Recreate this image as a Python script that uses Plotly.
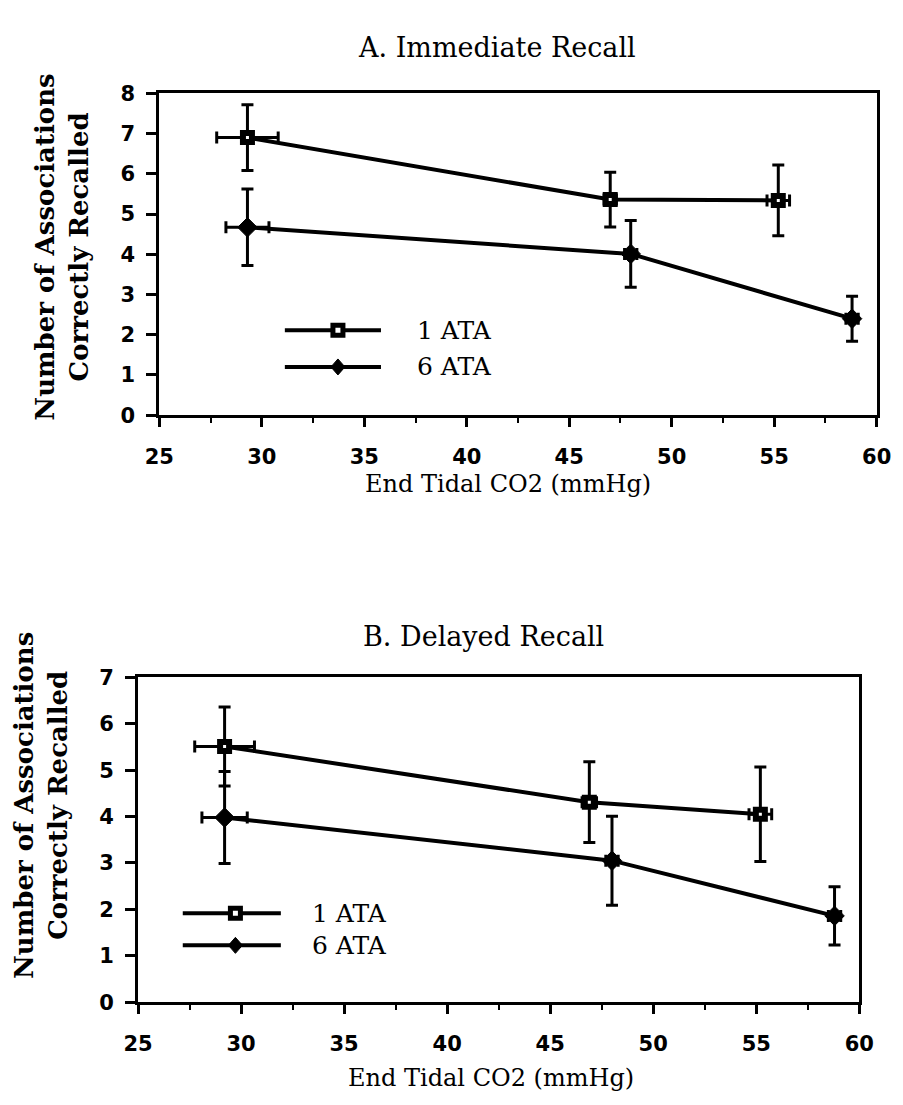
import plotly.graph_objects as go

# ---------------- data ----------------
# A. Immediate Recall
a_1ata_x = [29.3, 47.0, 55.2]
a_1ata_y = [6.90, 5.36, 5.34]
a_1ata_yerr = [0.82, 0.68, 0.88]
a_1ata_xerr = [1.5, 0.3, 0.55]

a_6ata_x = [29.3, 48.0, 58.8]
a_6ata_y = [4.67, 4.01, 2.40]
a_6ata_yerr = [0.95, 0.83, 0.56]
a_6ata_xerr = [1.05, 0.3, 0.3]

# B. Delayed Recall
b_1ata_x = [29.2, 46.9, 55.2]
b_1ata_y = [5.51, 4.31, 4.05]
b_1ata_yerr = [0.85, 0.87, 1.02]
b_1ata_xerr = [1.45, 0.35, 0.55]

b_6ata_x = [29.2, 48.0, 58.8]
b_6ata_y = [3.98, 3.05, 1.86]
b_6ata_yerr = [0.99, 0.96, 0.63]
b_6ata_xerr = [1.1, 0.3, 0.3]

series_names = ["1 ATA", "6 ATA"]
titles = ["A. Immediate Recall", "B. Delayed Recall"]
x_title = "End Tidal CO2 (mmHg)"
y_title = "Number of Associations<br>Correctly Recalled"
x_ticks = [25, 30, 35, 40, 45, 50, 55, 60]

W, H = 903, 1105
BLACK = "black"

fig = go.Figure()


def add_series(x, y, xerr, yerr, xa, ya, name, kind):
    if kind == "square":
        marker = dict(symbol="square", size=9, color="white",
                      line=dict(color=BLACK, width=6))
    else:
        marker = dict(symbol="diamond", size=15, color=BLACK,
                      line=dict(color=BLACK, width=1))
    fig.add_trace(go.Scatter(
        x=x, y=y, name=name, mode="lines+markers",
        xaxis=xa, yaxis=ya, showlegend=False, cliponaxis=False,
        line=dict(color=BLACK, width=4),
        marker=marker,
        error_y=dict(type="data", array=yerr, visible=True,
                     color=BLACK, thickness=3, width=6),
        error_x=dict(type="data", array=xerr, visible=True,
                     color=BLACK, thickness=3, width=6),
    ))


# draw 6 ATA first so 1 ATA squares sit on top
add_series(a_6ata_x, a_6ata_y, a_6ata_xerr, a_6ata_yerr, "x", "y", series_names[1], "diamond")
add_series(a_1ata_x, a_1ata_y, a_1ata_xerr, a_1ata_yerr, "x", "y", series_names[0], "square")
add_series(b_6ata_x, b_6ata_y, b_6ata_xerr, b_6ata_yerr, "x2", "y2", series_names[1], "diamond")
add_series(b_1ata_x, b_1ata_y, b_1ata_xerr, b_1ata_yerr, "x2", "y2", series_names[0], "square")

tickfont = dict(family="DejaVu Sans", size=21, color=BLACK, weight="bold")


def xaxis_cfg(domain, anchor):
    return dict(
        domain=domain, anchor=anchor, range=[25, 60],
        tickmode="array", tickvals=x_ticks, ticktext=[str(t) for t in x_ticks],
        showline=True, linewidth=3, linecolor=BLACK, mirror=True,
        ticks="outside", ticklen=9, tickwidth=2.5, tickcolor=BLACK,
        minor=dict(dtick=2.5, tick0=25, ticks="outside", ticklen=5,
                   tickwidth=2, tickcolor=BLACK, showgrid=False),
        showgrid=False, zeroline=False, tickfont=tickfont,
        ticklabelstandoff=12,
    )


def yaxis_cfg(domain, anchor, ymax):
    return dict(
        domain=domain, anchor=anchor, range=[0, ymax],
        tickmode="linear", tick0=0, dtick=1,
        showline=True, linewidth=3, linecolor=BLACK, mirror=True,
        ticks="outside", ticklen=10, tickwidth=2.5, tickcolor=BLACK,
        showgrid=False, zeroline=False, tickfont=tickfont,
        ticklabelstandoff=7,
    )


top_x = [141 / W, 883 / W]
top_y = [1 - 404 / H, 1 - 75 / H]
bot_x = [119 / W, 865 / W]
bot_y = [1 - 1004 / H, 1 - 672 / H]

fig.update_layout(
    width=W, height=H,
    margin=dict(l=0, r=0, t=0, b=0),
    paper_bgcolor="white", plot_bgcolor="white",
    showlegend=False,
    xaxis=xaxis_cfg(top_x, "y"),
    yaxis=yaxis_cfg(top_y, "x", 8),
    xaxis2=xaxis_cfg(bot_x, "y2"),
    yaxis2=yaxis_cfg(bot_y, "x2", 7),
)

serif = "DejaVu Serif"
ann = []
# panel titles
ann.append(dict(text=titles[0], x=490 / W, y=1 - 28 / H, xref="paper", yref="paper",
                showarrow=False, xanchor="center", yanchor="middle",
                font=dict(family=serif, size=27, color=BLACK)))
ann.append(dict(text=titles[1], x=476 / W, y=1 - 630 / H, xref="paper", yref="paper",
                showarrow=False, xanchor="center", yanchor="middle",
                font=dict(family=serif, size=27, color=BLACK)))
# x titles
ann.append(dict(text=x_title, x=502 / W, y=1 - 474 / H, xref="paper", yref="paper",
                showarrow=False, xanchor="center", yanchor="middle",
                font=dict(family=serif, size=24, color=BLACK)))
ann.append(dict(text=x_title, x=484 / W, y=1 - 1082 / H, xref="paper", yref="paper",
                showarrow=False, xanchor="center", yanchor="middle",
                font=dict(family=serif, size=24, color=BLACK)))
# y titles
ann.append(dict(text=y_title, x=40 / W, y=1 - 232 / H, xref="paper", yref="paper",
                showarrow=False, xanchor="center", yanchor="middle", textangle=-90,
                font=dict(family=serif, size=26, color=BLACK, weight="bold")))
ann.append(dict(text=y_title, x=18 / W, y=1 - 803 / H, xref="paper", yref="paper",
                showarrow=False, xanchor="center", yanchor="middle", textangle=-90,
                font=dict(family=serif, size=26, color=BLACK, weight="bold")))

shapes = []


def legend(xref, yref, x0, x1, xm, xt, y1, y2):
    for yy, kind, name in [(y1, "square", series_names[0]), (y2, "diamond", series_names[1])]:
        shapes.append(dict(type="line", xref=xref, yref=yref, x0=x0, x1=x1, y0=yy, y1=yy,
                           line=dict(color=BLACK, width=4)))
        if kind == "square":
            shapes.append(dict(type="rect", xref=xref, yref=yref,
                               xsizemode="pixel", ysizemode="pixel",
                               xanchor=xm, yanchor=yy, x0=-5, x1=5, y0=-5, y1=5,
                               fillcolor="white", line=dict(color=BLACK, width=5)))
        else:
            shapes.append(dict(type="path", xref=xref, yref=yref,
                               xsizemode="pixel", ysizemode="pixel",
                               xanchor=xm, yanchor=yy,
                               path="M0,-8 L7,0 L0,8 L-7,0 Z",
                               fillcolor=BLACK, line=dict(color=BLACK, width=1)))
        ann.append(dict(text=name, x=xt, y=yy, xref=xref, yref=yref, showarrow=False,
                        xanchor="left", yanchor="middle",
                        font=dict(family=serif, size=25, color=BLACK)))


legend("x domain", "y domain", 0.175, 0.309, 0.249, 0.356, 0.264, 0.150)
legend("x2 domain", "y2 domain", 0.062, 0.198, 0.135, 0.239, 0.274, 0.175)

fig.update_layout(annotations=ann, shapes=shapes)

fig.write_html("out.html")
